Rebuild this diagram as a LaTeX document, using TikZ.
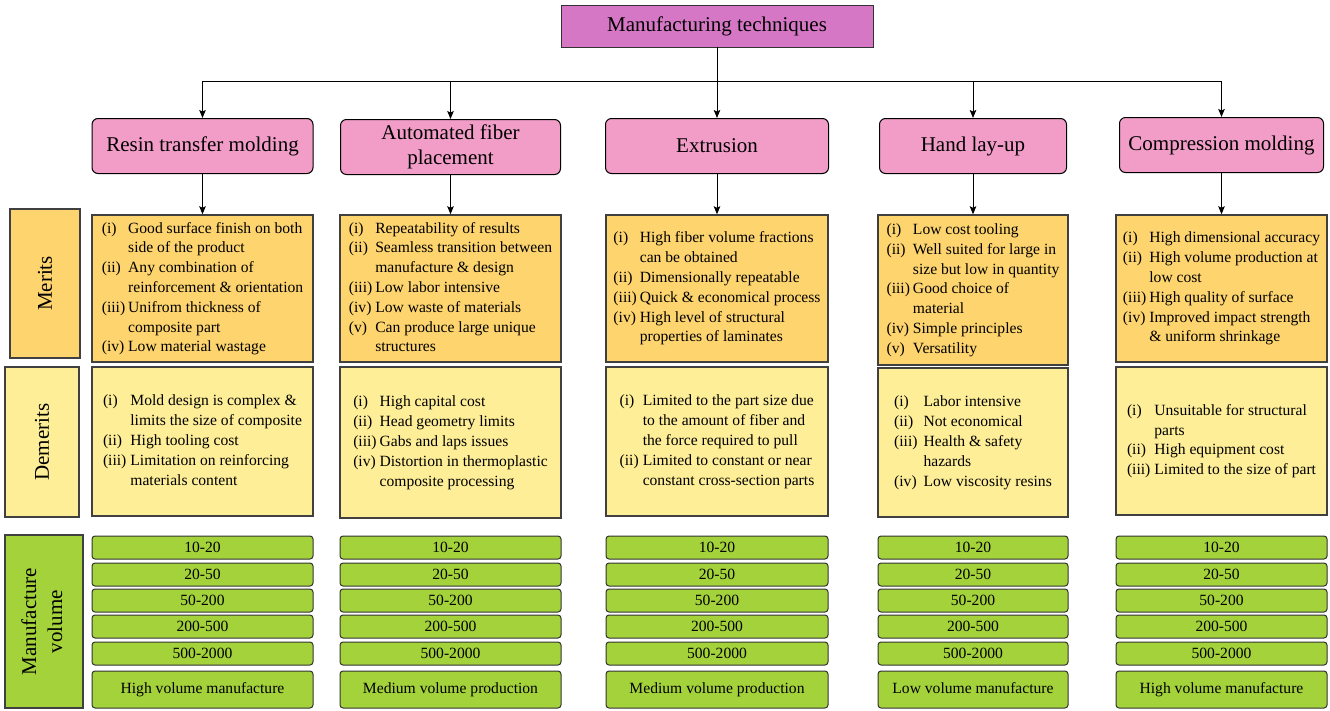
\documentclass[tikz,border=0pt]{standalone}
\usepackage{fontspec}
\setmainfont{Liberation Serif}
\usetikzlibrary{arrows.meta}

\definecolor{titlepink}{RGB}{214,119,198}
\definecolor{techpink}{RGB}{241,157,199}
\definecolor{meritorange}{RGB}{253,212,110}
\definecolor{demerityellow}{RGB}{254,238,151}
\definecolor{volgreen}{RGB}{163,210,59}

\begin{document}
\begin{tikzpicture}
[x=1pt,y=-1pt,
>={Stealth[length=8pt,width=6.5pt,inset=1.5pt]},
topbox/.style={draw=black!80, line width=0.8pt, fill=titlepink, minimum width=312pt,
  minimum height=42pt, font=\fontsize{21}{25}\selectfont},
techbox/.style={draw, line width=1pt, rounded corners=6pt, fill=techpink, minimum height=55pt,
  align=center, font=\fontsize{21}{25}\selectfont},
meritbox/.style={draw=black!75, line width=1.4pt, fill=meritorange, minimum height=147pt,
  inner sep=2pt, font=\fontsize{15.6}{19.8}\selectfont},
demeritbox/.style={draw=black!75, line width=1.4pt, fill=demerityellow, minimum height=149pt,
  inner sep=2pt, font=\fontsize{15.6}{19.8}\selectfont},
sidebox/.style={draw=black!75, line width=1.2pt, align=center, font=\fontsize{21}{26}\selectfont},
volbox/.style={draw=black!80, line width=1pt, rounded corners=3pt, fill=volgreen,
  minimum height=23pt, inner sep=0pt, font=\fontsize{15.6}{19}\selectfont}]
  \useasboundingbox (0,0) rectangle (1330,710);

  \node[topbox] (title) at (717,26) {Manufacturing techniques};
  \coordinate (bus) at (717,81);

  \node[techbox, minimum width=221pt] (t1) at (202.5,146) {Resin transfer molding};
  \node[techbox, minimum width=220pt] (t2) at (450.5,147) {Automated fiber\\placement};
  \node[techbox, minimum width=223pt] (t3) at (717,146) {Extrusion};
  \node[techbox, minimum width=187pt] (t4) at (973,146) {Hand lay-up};
  \node[techbox, minimum width=204pt] (t5) at (1221.5,145) {Compression molding};

  \draw[line width=1pt] (title) -- (bus);
  \draw[->, line width=1pt] (bus) -| (t1);
  \draw[->, line width=1pt] (bus) -| (t2);
  \draw[->, line width=1pt] (bus) -- (t3);
  \draw[->, line width=1pt] (bus) -| (t4);
  \draw[->, line width=1pt] (bus) -| (t5);

  % side labels
  \node[sidebox, fill=meritorange, minimum width=70pt, minimum height=149pt] (merits) at (45,283.5)
    {\rotatebox{90}{Merits}};
  \node[sidebox, fill=demerityellow, minimum width=74pt, minimum height=150pt] (demerits) at (42,442)
    {\rotatebox{90}{Demerits}};
  \node[sidebox, fill=volgreen, minimum width=78pt, minimum height=173pt] (volume) at (44,621.5)
    {\rotatebox{90}{\begin{tabular}{@{}c@{}}Manufacture\\volume\end{tabular}}};

  % merits
  \node[meritbox, minimum width=221pt] (m1) at (202.5,288.5) {\begin{tabular}{@{}l@{\hspace{3pt}}l@{}}
    (i) & Good surface finish on both\\ & side of the product\\
    (ii) & Any combination of\\ & reinforcement \& orientation\\
    (iii) & Unifrom thickness of\\ & composite part\\
    (iv) & Low material wastage\end{tabular}};
  \node[meritbox, minimum width=221pt] (m2) at (450.5,288.5) {\begin{tabular}{@{}l@{\hspace{3pt}}l@{}}
    (i) & Repeatability of results\\
    (ii) & Seamless transition between\\ & manufacture \& design\\
    (iii) & Low labor intensive\\
    (iv) & Low waste of materials\\
    (v) & Can produce large unique\\ & structures\end{tabular}};
  \node[meritbox, minimum width=222pt] (m3) at (717,288.5) {\begin{tabular}{@{}l@{\hspace{3pt}}l@{}}
    (i) & High fiber volume fractions\\ & can be obtained\\
    (ii) & Dimensionally repeatable\\
    (iii) & Quick \& economical process\\
    (iv) & High level of structural\\ & properties of laminates\end{tabular}};
  \node[meritbox, minimum width=190pt, minimum height=150pt] (m4) at (973,290) {\begin{tabular}{@{}l@{\hspace{3pt}}l@{}}
    (i) & Low cost tooling\\
    (ii) & Well suited for large in\\ & size but low in quantity\\
    (iii) & Good choice of\\ & material\\
    (iv) & Simple principles\\
    (v) & Versatility\end{tabular}};
  \node[meritbox, minimum width=211pt] (m5) at (1221.5,288.5) {\begin{tabular}{@{}l@{\hspace{3pt}}l@{}}
    (i) & High dimensional accuracy\\
    (ii) & High volume production at\\ & low cost\\
    (iii) & High quality of surface\\
    (iv) & Improved impact strength\\ & \& uniform shrinkage\end{tabular}};

  \draw[->, line width=1pt] (t1) -- (m1);
  \draw[->, line width=1pt] (t2) -- (m2);
  \draw[->, line width=1pt] (t3) -- (m3);
  \draw[->, line width=1pt] (t4) -- (m4);
  \draw[->, line width=1pt] (t5) -- (m5);

  % demerits
  \node[demeritbox, minimum width=221pt] (d1) at (202.5,441.5) {\begin{tabular}{@{}l@{\hspace{4pt}}l@{}}
    (i) & Mold design is complex \&\\ & limits the size of composite\\
    (ii) & High tooling cost\\
    (iii) & Limitation on reinforcing\\ & materials content\end{tabular}};
  \node[demeritbox, minimum width=221pt, minimum height=151pt] (d2) at (450.5,442.5) {\begin{tabular}{@{}l@{\hspace{3pt}}l@{}}
    (i) & High capital cost\\
    (ii) & Head geometry limits\\
    (iii) & Gabs and laps issues\\
    (iv) & Distortion in thermoplastic\\ & composite processing\end{tabular}};
  \node[demeritbox, minimum width=222pt] (d3) at (717,441.5) {\begin{tabular}{@{}l@{\hspace{4pt}}l@{}}
    (i) & Limited to the part size due\\ & to the amount of fiber and\\ & the force required to pull\\
    (ii) & Limited to constant or near\\ & constant cross-section parts\end{tabular}};
  \node[demeritbox, minimum width=190pt] (d4) at (973,442.5) {\begin{tabular}{@{}l@{\hspace{6pt}}l@{}}
    (i) & Labor intensive\\
    (ii) & Not economical\\
    (iii) & Health \& safety\\ & hazards\\
    (iv) & Low viscosity resins\end{tabular}};
  \node[demeritbox, minimum width=211pt, minimum height=148pt] (d5) at (1221.5,441) {\begin{tabular}{@{}l@{\hspace{4pt}}l@{}}
    (i) & Unsuitable for structural\\ & parts\\
    (ii) & High equipment cost\\
    (iii) & Limited to the size of part\end{tabular}};

  % manufacture volume
  \foreach \cx/\w/\n in {202.5/221/1, 450.5/221/2, 717/222/3, 973/190/4, 1221.5/211/5}{
    \node[volbox, minimum width=\w pt] (v\n a) at (\cx,547.5) {10-20};
    \node[volbox, minimum width=\w pt] (v\n b) at (\cx,574.5) {20-50};
    \node[volbox, minimum width=\w pt] (v\n c) at (\cx,600.5) {50-200};
    \node[volbox, minimum width=\w pt] (v\n d) at (\cx,626.5) {200-500};
    \node[volbox, minimum width=\w pt] (v\n e) at (\cx,653.5) {500-2000};
  }
  \node[volbox, minimum width=221pt, minimum height=37pt] (v1f) at (202.5,689.5) {High volume manufacture};
  \node[volbox, minimum width=221pt, minimum height=37pt] (v2f) at (450.5,689.5) {Medium volume production};
  \node[volbox, minimum width=222pt, minimum height=37pt] (v3f) at (717,689.5) {Medium volume production};
  \node[volbox, minimum width=190pt, minimum height=37pt] (v4f) at (973,689.5) {\strut Low volume manufacture};
  \node[volbox, minimum width=211pt, minimum height=37pt] (v5f) at (1221.5,689.5) {High volume manufacture};
\end{tikzpicture}
\end{document}
